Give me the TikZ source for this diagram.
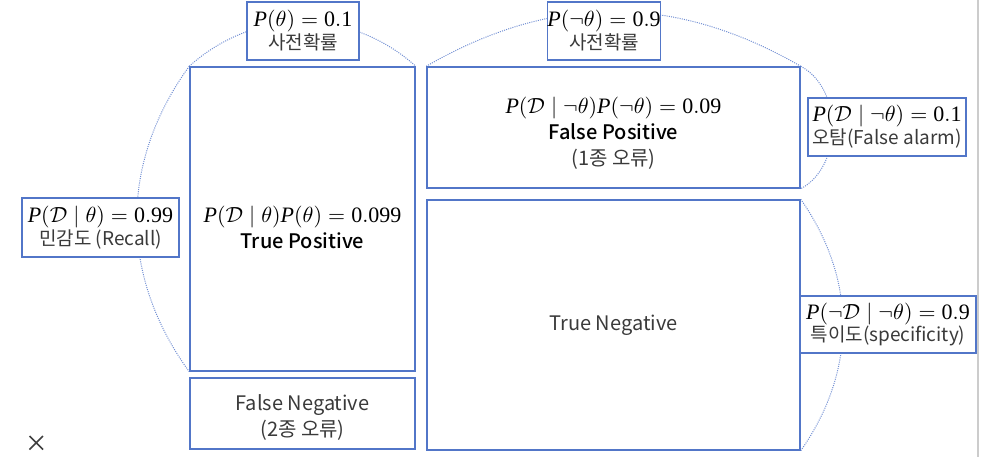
\documentclass[tikz,border=0pt]{standalone}
\usepackage{fontspec}
\setmainfont{Noto Sans CJK KR}[BoldFont={Noto Sans CJK KR Medium}]
\setmathrm{Liberation Serif}
\usetikzlibrary{backgrounds}
\definecolor{boxblue}{RGB}{82,118,200}
\definecolor{arcblue}{RGB}{110,140,210}
\definecolor{txtgray}{RGB}{58,58,58}
\tikzset{every picture/.style={line width=0.75pt}}
\tikzset{
  cell/.style={draw=boxblue, fill=white, inner sep=0pt, align=center,
    font=\fontsize{10}{13}\selectfont, text=txtgray},
  tag/.style={cell, font=\fontsize{9.5}{11.5}\selectfont},
  arcline/.style={arcblue, line width=0.5pt, dash pattern=on 0.5pt off 0.6pt},
}
\newcommand{\pr}[1]{{\fontsize{11}{12}\selectfont\color{black}$#1$}}
\newcommand{\bftext}[1]{{\color{black}\bfseries #1}}
\newcommand{\pushdown}[1]{\rule{0pt}{#1}}
\newcommand{\PP}{\mathit{P}}
\newcommand{\num}[1]{\mathrm{#1}}

\begin{document}
\begin{tikzpicture}[x=0.5pt,y=-0.5pt]
    % 그림 영역
    \useasboundingbox (0,0) rectangle (981,457);

    % 네 칸
    \node[cell, minimum width=112.5pt, minimum height=152pt] (tp) at (302.5,219)
        {\pushdown{16.3pt}\pr{\PP(\mathcal{D}\mid\theta)\PP(\theta)=\num{0.099}}\\ \bftext{True Positive}};
    \node[cell, minimum width=112.5pt, minimum height=35.5pt] (fn) at (302.5,413.5)
        {\pushdown{11.5pt}False Negative\\(2종 오류)};
    \node[cell, minimum width=186.5pt, minimum height=60.5pt] (fp) at (613.5,127.5)
        {\pushdown{14.3pt}\pr{\PP(\mathcal{D}\mid\neg\theta)\PP(\neg\theta)=\num{0.09}}\\ \bftext{False Positive}\\(1종 오류)};
    \node[cell, minimum width=186.5pt, minimum height=125pt] (tn) at (613.5,325)
        {True Negative};

    % 확률 라벨
    \node[tag, minimum width=56pt, minimum height=29pt] (prior) at (303,31)
        {\pr{\PP(\theta)=\num{0.1}}\\사전확률};
    \node[tag, minimum width=56pt, minimum height=29pt] (negprior) at (604,31)
        {\pr{\PP(\neg\theta)=\num{0.9}}\\사전확률};
    \node[tag, minimum width=78.5pt, minimum height=29.5pt] (recall) at (100.5,227.5)
        {\pr{\PP(\mathcal{D}\mid\theta)=\num{0.99}}\\민감도 (Recall)};
    \node[tag, minimum width=79pt, minimum height=29pt] (alarm) at (887,127)
        {\pr{\PP(\mathcal{D}\mid\neg\theta)=\num{0.1}}\\오탐(False alarm)};
    \node[tag, minimum width=88pt, minimum height=28.5pt] (spec) at (888,324.5)
        {\pr{\PP(\neg\mathcal{D}\mid\neg\theta)=\num{0.9}}\\특이도(specificity)};

    % 점선 호
    \begin{scope}[on background layer]
        \draw[arcline] (tp.north west) to[bend left=42] (tp.north east);
        \draw[arcline] (tp.north west) to[bend right=36] (tp.south west);
        \draw[arcline] (fp.north west) to[bend left=30] (fp.north east);
        \draw[arcline] (fp.north east) to[bend left=62] (fp.south east);
        \draw[arcline] (tn.north east) to[bend left=35] (tn.south east);
    \end{scope}

    % 창 테두리와 닫기 표시
    \draw[gray!40, line width=1pt] (978,0) -- (978,457);
    \draw[darkgray, line width=0.8pt] (29.5,436) -- (43,449.5) (43,436) -- (29.5,449.5);
\end{tikzpicture}
\end{document}
